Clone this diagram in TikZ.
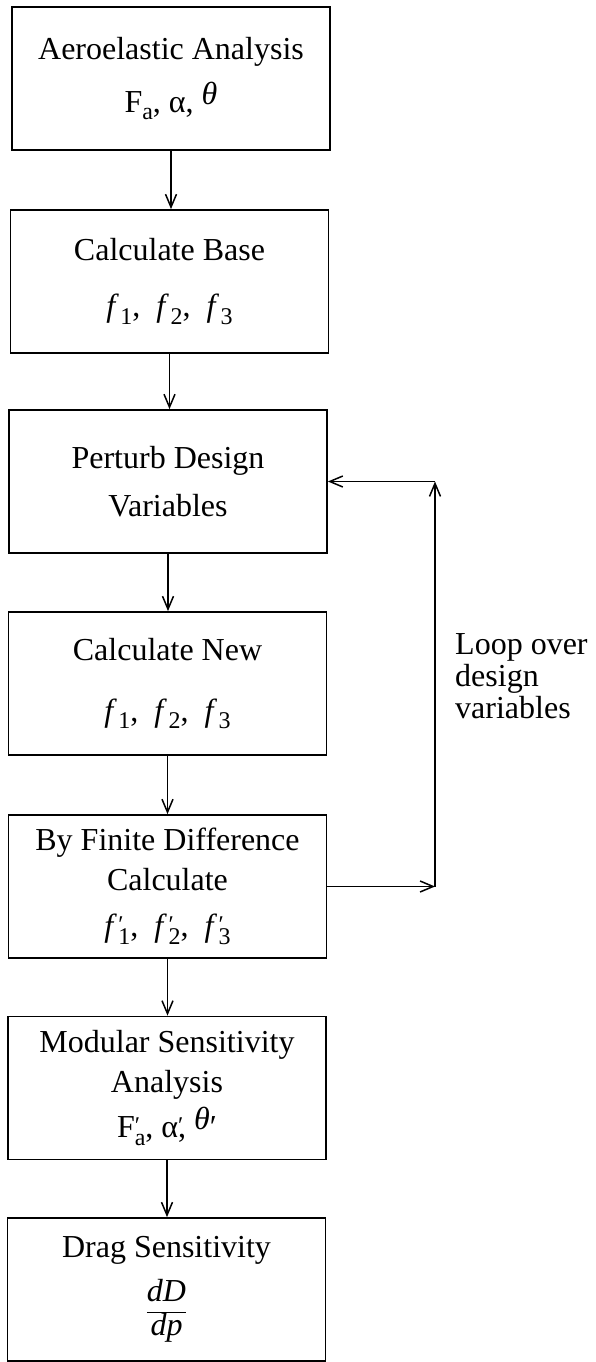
\documentclass[tikz,border=0pt]{standalone}
\usepackage{fontspec}
\setmainfont{Liberation Serif}
\usetikzlibrary{arrows.meta}
\newcommand\sbs[1]{\raisebox{-0.24em}{\fontsize{24}{24}\selectfont #1}}
\newcommand\prmark{\rlap{\raisebox{0.12em}{\fontsize{24}{24}\selectfont ′}}}
\newcommand\fsub[1]{\textit{f}\kern1.5pt\sbs{#1}}
\newcommand\fpr[1]{\textit{f}\kern1.5pt\prmark\sbs{#1}}
\newcommand\thr{\raisebox{0.25em}{\textit{θ}}}
\begin{document}
\begin{tikzpicture}[x=1pt,y=-1pt,
  box/.style={draw, line width=1.8pt, minimum width=318pt, minimum height=143pt,
    align=center, inner sep=0pt, font=\fontsize{32}{40}\selectfont},
  arr/.style={line width=1.5pt, -{Straight Barb[length=13pt,width=11pt,line width=1.5pt]}},
  loopnote/.style={align=left, inner sep=0pt, anchor=north west, font=\fontsize{32}{32}\selectfont}]
\useasboundingbox (0,0) rectangle (595,1362);
\node[box] (b1) at (171,78.5) {Aeroelastic Analysis\\[13pt]F\sbs{a}, α, \thr};
\node[box] (b2) at (169.5,281.5) {Calculate Base\\[16pt]\fsub{1},\hspace{0.5em}\fsub{2},\hspace{0.5em}\fsub{3}};
\node[box] (b3) at (168,481.5) {Perturb Design\\[8pt]Variables};
\node[box] (b4) at (167.5,683.5) {Calculate New\\[21pt]\fsub{1},\hspace{0.5em}\fsub{2},\hspace{0.5em}\fsub{3}};
\node[box] (b5) at (167.5,886.5) {By Finite Difference\\[0pt]Calculate\\[6pt]\fpr{1},\hspace{0.5em}\fpr{2},\hspace{0.5em}\fpr{3}};
\node[box] (b6) at (167,1088) {Modular Sensitivity\\[0pt]Analysis\\[5pt]F\prmark\sbs{a}, α\prmark, \thr′};
\node[box] (b7) at (166.5,1289.5) {Drag Sensitivity\\[14pt]$\displaystyle\frac{\textit{dD}}{\textit{dp}}$};
\coordinate (lx) at (435,0);
\coordinate (c1) at (b5.east -| lx);
\coordinate (c2) at (b3.east -| lx);
\node[loopnote] (note) at (455,633) {Loop over\\design\\variables};
\draw[arr] (b1.south) -- (b1.south |- b2.north);
\draw[arr] (b2.south) -- (b2.south |- b3.north);
\draw[arr] (b3.south) -- (b3.south |- b4.north);
\draw[arr] (b4.south) -- (b4.south |- b5.north);
\draw[arr] (b5.south) -- (b5.south |- b6.north);
\draw[arr] (b6.south) -- (b6.south |- b7.north);
\draw[arr] (b5.east) -- (c1);
\draw[arr] (c1) -- (c2);
\draw[arr] (c2) -- (b3.east);
\end{tikzpicture}
\end{document}
